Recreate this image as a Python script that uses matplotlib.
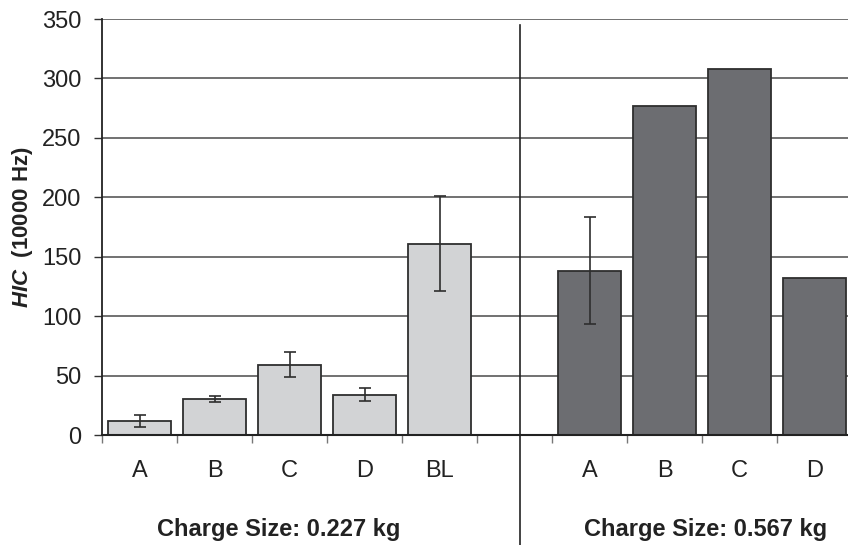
import matplotlib
matplotlib.use("Agg")
import matplotlib.pyplot as plt
import numpy as np

plt.rcParams['font.family'] = ['Liberation Sans', 'DejaVu Sans']
plt.rcParams['mathtext.fontset'] = 'custom'
plt.rcParams['mathtext.it'] = 'Liberation Sans:italic:bold'
plt.rcParams['mathtext.rm'] = 'Liberation Sans:bold'
plt.rcParams['mathtext.bf'] = 'Liberation Sans:bold'

labels = ["A", "B", "C", "D", "BL", "", "A", "B", "C", "D"]
light_vals = [12, 30, 59, 34, 161]
light_err = [5, 2.5, 10.5, 5.5, 40]
dark_vals = [138, 277, 308, 132]
dark_err = [45, 0, 0, 0]
group_names = ["Charge Size: 0.227 kg", "Charge Size: 0.567 kg"]
yticks = [0, 50, 100, 150, 200, 250, 300, 350]

fig = plt.figure(figsize=(8.48, 5.45), dpi=100)
ax = fig.add_axes([102/848, 110/545, 750/848, 416/545])

x_light = np.arange(len(light_vals))
x_dark = np.arange(len(dark_vals)) + 6
w = 0.84

ax.set_axisbelow(True)
ax.yaxis.grid(True, color="#4a4a4a", lw=1.1)

ax.bar(x_light, light_vals, width=w, color="#d2d3d5", edgecolor="#2e2e2e", lw=1.3, zorder=2)
ax.bar(x_dark, dark_vals, width=w, color="#6c6d71", edgecolor="#2e2e2e", lw=1.3, zorder=2)

ax.errorbar(x_light, light_vals, yerr=light_err, fmt="none", ecolor="#2e2e2e",
            elinewidth=1.2, capsize=4, capthick=1.2, zorder=3)
de = np.array(dark_err)
m = de > 0
ax.errorbar(x_dark[m], np.array(dark_vals)[m], yerr=de[m], fmt="none", ecolor="#2e2e2e",
            elinewidth=1.2, capsize=4, capthick=1.2, zorder=3)

ax.set_xlim(-0.5, len(labels) - 0.5)
ax.set_ylim(0, 350)
ax.set_yticks(yticks)
ax.set_yticklabels([str(v) for v in yticks], fontsize=17, color="#222222")
ax.tick_params(axis="y", length=6, width=1, color="#333333", pad=9)

ax.set_xticks(np.arange(len(labels)))
ax.set_xticklabels(labels, fontsize=17, color="#222222")
ax.tick_params(axis="x", which="major", length=0, pad=18)
ax.set_xticks(np.arange(len(labels) + 1) - 0.5, minor=True)
ax.tick_params(axis="x", which="minor", length=6, width=1, color="#777777", direction="out")

for s in ["top", "right"]:
    ax.spines[s].set_visible(False)
ax.spines["left"].set_color("#222222")
ax.spines["left"].set_linewidth(1.3)
ax.spines["bottom"].set_color("#222222")
ax.spines["bottom"].set_linewidth(1.5)

# separator between groups
sep_x = 5.07
ax.plot([sep_x, sep_x], [345, -92.5], color="#222222", lw=1.2, clip_on=False, zorder=4)

ax.text(1.85, -0.228, group_names[0], transform=ax.get_xaxis_transform(),
        ha="center", va="center", fontsize=17, fontweight="bold", color="#222222")
ax.text(7.55, -0.228, group_names[1], transform=ax.get_xaxis_transform(),
        ha="center", va="center", fontsize=17, fontweight="bold", color="#222222")

ax.set_ylabel(r"$\it{HIC}$  (10000 Hz)", fontsize=16, fontweight="bold", color="#222222", labelpad=5)

fig.savefig("out.png", dpi=100)
